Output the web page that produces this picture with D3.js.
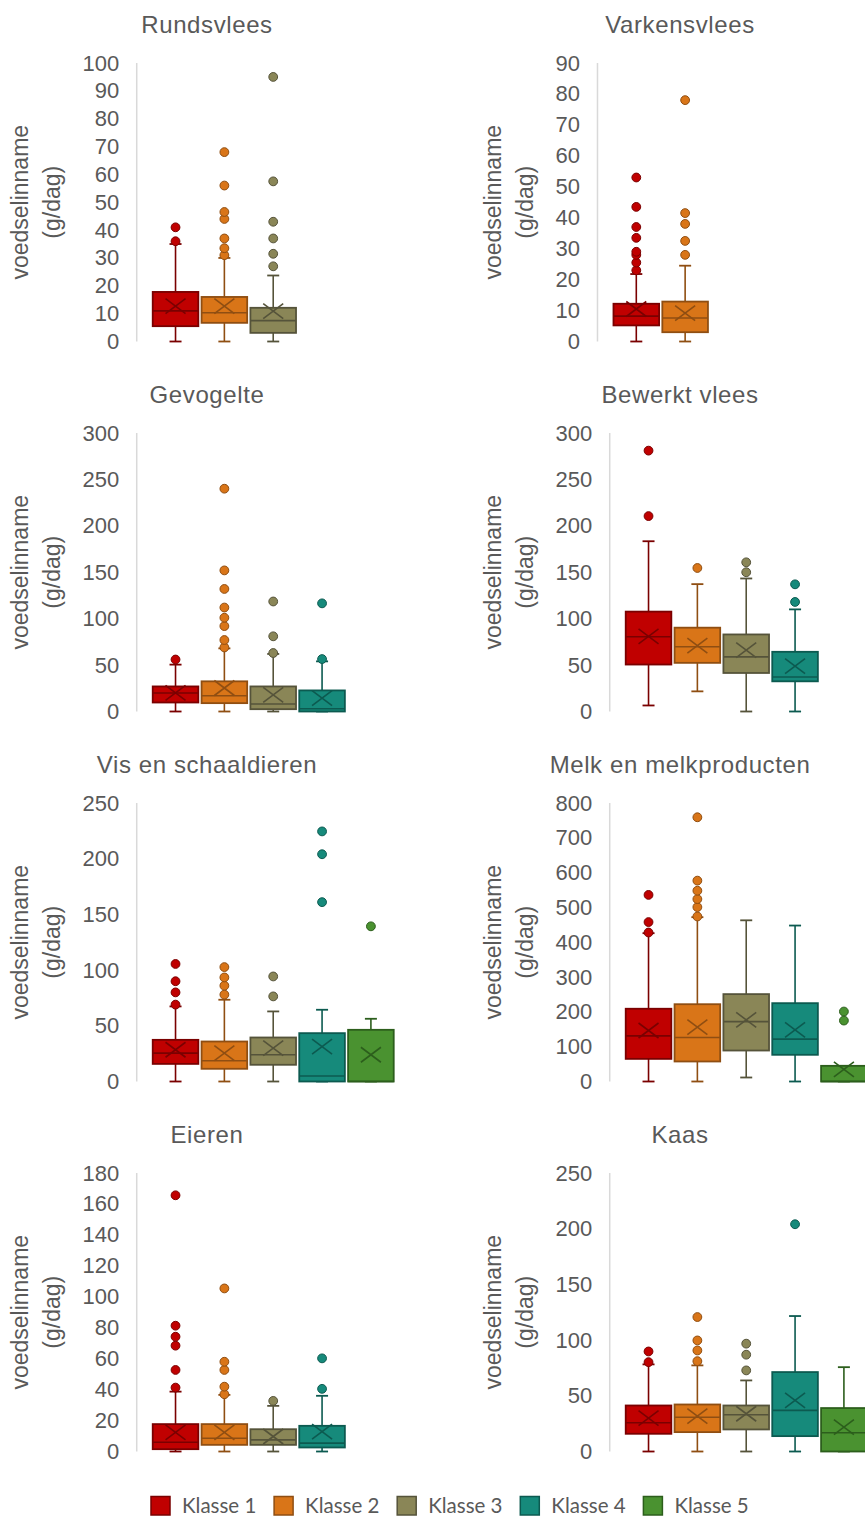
<!DOCTYPE html>
<html>
<head>
<meta charset="utf-8">
<script src="https://cdn.jsdelivr.net/npm/d3@7"></script>
<style>
  body { margin: 0; background: #fff; }
  svg { display: block; }
  text { font-family: "Liberation Sans", Arial, sans-serif; fill: #595959; }
  .legend text { font-family: Lato, "Liberation Sans", sans-serif; }
</style>
</head>
<body>
<svg id="chart" width="865" height="1517"></svg>
<script>
// Classes and their colours
const classes = ["Klasse 1", "Klasse 2", "Klasse 3", "Klasse 4", "Klasse 5"];
const fills   = ["#c00000", "#d97518", "#8a8657", "#168a7b", "#4a9230"];
const strokes = ["#7a0000", "#8f4e12", "#55533a", "#0c5a50", "#2c5e1c"];

// Panel titles and y-axis tick settings
const panelTitles = ["Rundsvlees", "Varkensvlees", "Gevogelte", "Bewerkt vlees",
                     "Vis en schaaldieren", "Melk en melkproducten", "Eieren", "Kaas"];
const axisMax  = [100, 90, 300, 300, 250, 800, 180, 250];
const axisStep = [10, 10, 50, 50, 50, 100, 20, 50];

// Per panel, per class: [whisker low, Q1, median, Q3, whisker high, mean, outliers]
const rundsvlees = [
  [0, 5.5, 11, 17.8, 35, 12.7, [36, 41]],
  [0, 6.7, 10.3, 16, 30, 12.7, [31, 33.5, 37, 44, 46.5, 56, 68]],
  [0, 3.1, 7.5, 12.1, 23.7, 10.9, [27, 31.5, 37, 43, 57.5, 95]]
];
const varkensvlees = [
  [0, 5.2, 8.2, 12.2, 21.8, 10.5, [23, 25.5, 28, 29, 33.5, 37, 43.5, 53]],
  [0, 3, 7.6, 12.9, 24.5, 9.2, [28, 32.5, 38, 41.5, 78]]
];
const gevogelte = [
  [0, 9.7, 19.9, 27, 50.5, 20, [56]],
  [0, 9, 17, 32.5, 68, 25.3, [69, 77, 92, 101, 112, 132, 152, 240]],
  [0, 2.5, 8, 27, 62, 18, [63, 81, 118.5]],
  [0, 0, 3, 22.7, 54, 14.4, [56.5, 116.5]]
];
const bewerktVlees = [
  [6.5, 50.6, 80.5, 107.6, 183.4, 81, [210.5, 281]],
  [21.7, 52.4, 69.7, 90.3, 137.2, 71, [154.6]],
  [0, 41.5, 58.8, 83, 143.3, 66, [150, 160.7]],
  [0, 32.5, 37.2, 64.3, 110, 48.8, [118, 137]]
];
const visSchaaldieren = [
  [0, 15.8, 25.5, 37.4, 67.4, 28.5, [69, 80, 90, 105.5]],
  [0, 11.4, 18.6, 35.9, 73.4, 25.5, [78, 86, 93.4, 102.7]],
  [0, 15, 24, 39.5, 62.9, 30, [76.4, 94.3]],
  [0, 0, 5, 43.4, 64.4, 31.4, [161, 204, 224.5]],
  [0, 0, 0, 46.4, 56.3, 24, [139.3]]
];
const melkproducten = [
  [0, 65, 131, 209, 426, 146.5, [428, 458, 536]],
  [0, 57.5, 126.4, 222, 472, 156, [474, 501, 524, 548, 577, 759]],
  [11.5, 89, 172, 251, 463, 177, []],
  [0, 76.7, 121.6, 225, 448, 148.5, []],
  [0, 0, 0, 45, 45, 35, [175, 201]]
];
const eieren = [
  [0, 1.5, 6, 17.7, 38.7, 12.3, [41.3, 52.7, 68.4, 74.2, 81.3, 165.6]],
  [0, 4.3, 8.6, 17.7, 36.6, 12.3, [37, 41.9, 52.7, 58, 105.4]],
  [0, 4.3, 7.5, 14.4, 29.5, 9.7, [32.7]],
  [0, 2.6, 5.4, 16.6, 36, 12.9, [40.5, 60.2]]
];
const kaas = [
  [0, 15.9, 25.8, 41.3, 78.2, 29.9, [80.2, 89.8]],
  [0, 17.4, 30.8, 42.2, 77.3, 31.7, [81.1, 90.7, 99.7, 120.7]],
  [0, 19.8, 33, 41.3, 63.8, 33.9, [72.8, 86.9, 96.8]],
  [0, 13.8, 36.9, 71.3, 121.6, 45.8, [204]],
  [0, 0, 16.8, 39, 75.7, 21.8, []]
];
const panelStats = [rundsvlees, varkensvlees, gevogelte, bewerktVlees,
                    visSchaaldieren, melkproducten, eieren, kaas];

// Layout
const colOffset = 473;      // horizontal shift of the right column
const labelLeft = 82.5;     // left edge of tick labels in a column
const labelGap = 17.5;      // tick label to axis line
const rowTop = 63, rowStep = 370, plotH = 278.5;
const boxInset = 16;

const svg = d3.select("#chart");

panelStats.forEach((stats, p) => {
  const col = p % 2, row = Math.floor(p / 2);
  const ox = col * colOffset;
  const top = rowTop + row * rowStep;
  const g = svg.append("g").attr("transform", `translate(${ox},0)`);

  const y = d3.scaleLinear().domain([0, axisMax[p]]).range([top + plotH, top]);
  const ticks = d3.range(0, axisMax[p] + axisStep[p] / 2, axisStep[p]);

  // tick labels first, so the axis line can sit right of the widest label
  const ax = g.append("g")
    .call(d3.axisLeft(y).tickValues(ticks).tickSize(0).tickPadding(labelGap).tickFormat(d3.format("d")));
  ax.select(".domain").remove();
  ax.selectAll("text").attr("font-size", 22).attr("fill", "#595959")
    .style("font-family", '"Liberation Sans", Arial, sans-serif');
  let maxW = 0;
  ax.selectAll("text").each(function () { maxW = Math.max(maxW, this.getComputedTextLength()); });
  const axisX = labelLeft + maxW + labelGap;
  ax.attr("transform", `translate(${axisX},0)`);

  g.append("line")
    .attr("x1", axisX).attr("x2", axisX)
    .attr("y1", y(axisMax[p])).attr("y2", y(0))
    .attr("stroke", "#d9d9d9").attr("stroke-width", 1.5);

  // panel title
  g.append("text").attr("x", 207).attr("y", top - 30)
    .attr("text-anchor", "middle").attr("font-size", 24)
    .attr("letter-spacing", 0.6).text(panelTitles[p]);

  // y-axis title, two lines rotated
  const midY = top + plotH / 2;
  [["voedselinname", 20], ["(g/dag)", 52]].forEach(([t, x]) => {
    g.append("text").attr("transform", `translate(${x},${midY}) rotate(-90)`)
      .attr("text-anchor", "middle").attr("dy", "0.35em")
      .attr("font-size", 23).text(t);
  });

  const x = d3.scaleBand().domain(d3.range(classes.length))
    .range([axisX + boxInset, axisX + boxInset + 48.2 * classes.length]).paddingInner(0.066).paddingOuter(0);

  stats.forEach((s, i) => {
    const [lo, q1, med, q3, hi, mean, outl] = s;
    const bx = x(i), bw = x.bandwidth(), cx = bx + bw / 2;
    const bg = g.append("g");
    const dark = strokes[i];
    // whiskers with caps
    bg.append("line").attr("x1", cx).attr("x2", cx).attr("y1", y(q3)).attr("y2", y(hi))
      .attr("stroke", dark).attr("stroke-width", 1.6);
    bg.append("line").attr("x1", cx).attr("x2", cx).attr("y1", y(q1)).attr("y2", y(lo))
      .attr("stroke", dark).attr("stroke-width", 1.6);
    [lo, hi].forEach(v => {
      bg.append("line").attr("x1", cx - 6).attr("x2", cx + 6).attr("y1", y(v)).attr("y2", y(v))
        .attr("stroke", dark).attr("stroke-width", 1.8);
    });
    // box
    bg.append("rect").attr("x", bx).attr("y", y(q3)).attr("width", bw)
      .attr("height", Math.max(0, y(q1) - y(q3)))
      .attr("fill", fills[i]).attr("stroke", dark).attr("stroke-width", 1.8);
    // median
    bg.append("line").attr("x1", bx).attr("x2", bx + bw).attr("y1", y(med)).attr("y2", y(med))
      .attr("stroke", dark).attr("stroke-width", 1.6);
    // mean marker
    const my = y(mean);
    bg.append("path")
      .attr("d", `M${cx - 10},${my - 7.5}L${cx + 10},${my + 7.5}M${cx - 10},${my + 7.5}L${cx + 10},${my - 7.5}`)
      .attr("stroke", dark).attr("stroke-width", 1.6).attr("fill", "none");
    // outliers
    bg.selectAll("circle").data(outl).join("circle")
      .attr("cx", cx).attr("cy", d => y(d)).attr("r", 4.4)
      .attr("fill", fills[i]).attr("stroke", dark).attr("stroke-width", 1);
  });
});

// legend
const lg = svg.append("g").attr("class", "legend");
classes.forEach((c, i) => {
  const lx = 151 + i * 123.1;
  lg.append("rect").attr("x", lx).attr("y", 1496.5).attr("width", 19).attr("height", 18.5)
    .attr("fill", fills[i]).attr("stroke", strokes[i]).attr("stroke-width", 1.5);
  lg.append("text").attr("x", lx + 31).attr("y", 1506).attr("dy", "0.35em")
    .attr("font-size", 20.5).text(c);
});
</script>
</body>
</html>
